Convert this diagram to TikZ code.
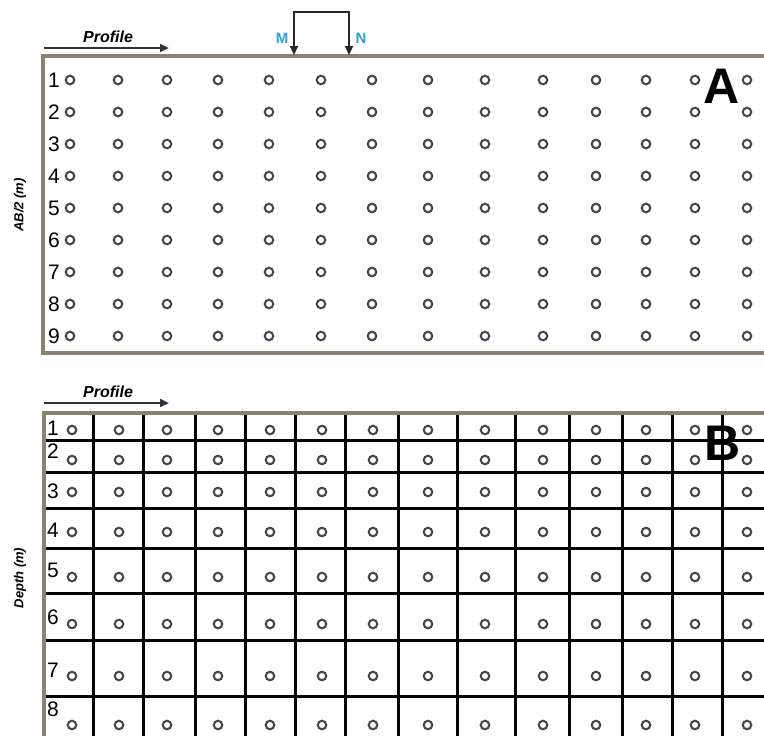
\documentclass[tikz,border=0pt]{standalone}
\usepackage{fontspec}
\setmainfont{Liberation Sans}
\usetikzlibrary{arrows.meta}
\definecolor{framebrown}{HTML}{8C8070}
\definecolor{elecblue}{HTML}{2A9FD8}
\definecolor{stationgray}{HTML}{4A474C}

\begin{document}
\begin{tikzpicture}[
    x=1pt, y=-1pt,
    frameline/.style={draw=framebrown, line width=3.6pt},
    gridline/.style={draw=black, line width=3pt},
    station/.style={circle, draw=stationgray, line width=2.1pt, minimum size=8.5pt, inner sep=0pt},
    rowlab/.style={font=\fontsize{21}{21}\selectfont, inner sep=0pt},
    panel/.style={font=\bfseries\fontsize{50}{50}\selectfont, inner sep=0pt},
    axislab/.style={font=\bfseries\itshape\fontsize{13}{13}\selectfont, rotate=90},
    proflab/.style={font=\bfseries\itshape\fontsize{16}{16}\selectfont},
    elab/.style={font=\bfseries\fontsize{15}{15}\selectfont, text=elecblue},
    arr/.style={-{Triangle[length=9pt,width=8pt]}, line width=2.4pt, draw=black!80},
    arrboth/.style={{Triangle[length=9pt,width=8pt]}-{Triangle[length=9pt,width=8pt]}, line width=2pt, draw=black!85}
]
\useasboundingbox (0,0) rectangle (764,736);

% panel A: sounding points
\draw[frameline] (764,56) -| (43,353) -- (764,353);
\foreach \r in {1,...,9} {
    \pgfmathsetmacro{\y}{80+32*(\r-1)}
    \node[rowlab] (la-\r) at (54,\y) {\r};
    \foreach \x [count=\c] in {70,118,167,218,269,321,372,428,485,543,596,646,695,747}
        \node[station] (a-\r-\c) at (\x,\y) {};
}

% profile arrow and M N electrodes
\coordinate (pa-s) at (44,48);
\coordinate (pa-e) at (169,48);
\draw[arr] (pa-s) -- (pa-e);
\node[proflab] (pa-lab) at (108,37) {Profile};

\coordinate (m-foot) at (294,55);
\coordinate (m-top) at (294,12);
\coordinate (n-top) at (349,12);
\coordinate (n-foot) at (349,55);
\draw[arrboth] (m-foot) -- (m-top) -- (n-top) -- (n-foot);
\node[elab] (m-lab) at (282,38) {M};
\node[elab] (n-lab) at (361,38) {N};

\node[axislab] (ylab-a) at (20,205) {AB/2 (m)};
\node[panel] (lab-a) at (722,86) {A};

% panel B: depth cells
\foreach \x in {93,143,195,245,295,345,398,457,515,569,622,672,722}
    \draw[gridline] (\x,413) -- (\x,736);
\foreach \y in {440,472,508,548,593,640,696}
    \draw[gridline] (44,\y) -- (764,\y);
\draw[frameline] (764,413) -| (44,736);

\foreach \r/\cy/\ly in {1/430/428, 2/460/451, 3/492/491, 4/532/530, 5/577/570, 6/624/617, 7/676/670, 8/725/709} {
    \node[rowlab] (lb-\r) at (53,\ly) {\r};
    \foreach \x [count=\c] in {72,119,167,218,270,322,373,428,485,543,596,646,695,747}
        \node[station] (b-\r-\c) at (\x,\cy) {};
}

\coordinate (pb-s) at (44,403);
\coordinate (pb-e) at (169,403);
\draw[arr] (pb-s) -- (pb-e);
\node[proflab] (pb-lab) at (108,392) {Profile};

\node[axislab] (ylab-b) at (20,578) {Depth (m)};
\node[panel] (lab-b) at (723,443) {B};

\end{tikzpicture}
\end{document}
